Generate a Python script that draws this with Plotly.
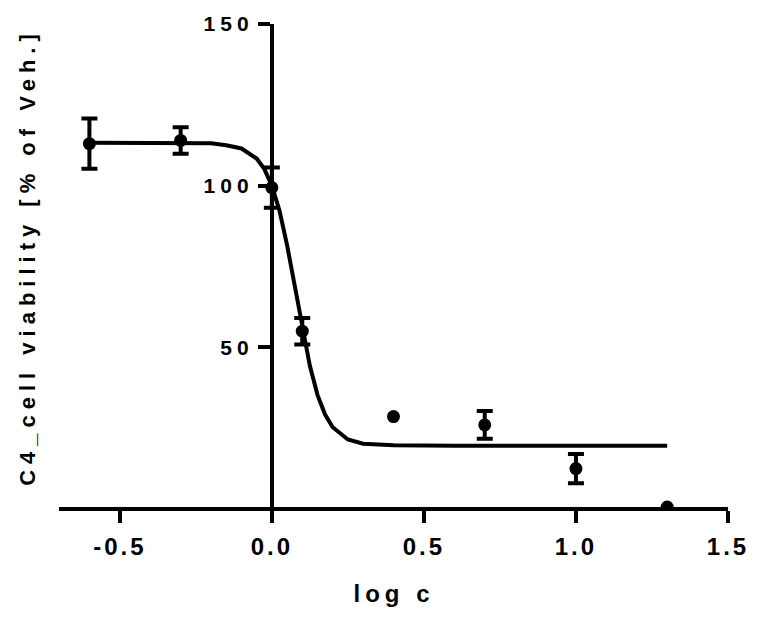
import plotly.graph_objects as go

log_c = [-0.6, -0.3, 0.0, 0.1, 0.4, 0.7, 1.0, 1.3]
viability = [113.0, 114.0, 99.4, 55.0, 28.6, 26.0, 12.5, 0.6]
sem = [7.8, 4.1, 6.2, 4.1, None, 4.3, 4.5, None]

# Fitted curve, points
fit_x = [-0.6, -0.4, -0.2, -0.15, -0.1, -0.05, -0.025, 0.0, 0.025, 0.05, 0.075,
         0.1, 0.125, 0.15, 0.175, 0.2, 0.25, 0.3, 0.35, 0.4, 0.6, 1.0, 1.3]
fit_y = [113.3, 113.3, 113.1, 112.5, 111.5, 108.4, 105.2, 100.0, 92.3, 81.6, 69.0,
         55.8, 44.3, 35.3, 29.2, 25.3, 21.5, 20.2, 19.8, 19.7, 19.6, 19.6, 19.6]

x_ticks = [-0.5, 0.0, 0.5, 1.0, 1.5]
x_tick_text = ["-0.5", "0.0", "0.5", "1.0", "1.5"]
y_ticks = [50, 100, 150]
y_tick_text = ["50", "100", "150"]

x_title = "log c"
y_title = "C4_cell viability [% of Veh.]"

FONT = "Liberation Sans, Arial, sans-serif"

# split points with / without error bars
with_err = [i for i, e in enumerate(sem) if e is not None]
no_err = [i for i, e in enumerate(sem) if e is None]

fig = go.Figure()
fig.add_trace(go.Scatter(
    x=fit_x, y=fit_y, mode="lines",
    line=dict(color="black", width=4),
    hoverinfo="skip", showlegend=False,
))
fig.add_trace(go.Scatter(
    x=[log_c[i] for i in with_err], y=[viability[i] for i in with_err],
    mode="markers",
    marker=dict(color="black", size=13),
    error_y=dict(type="data", array=[sem[i] for i in with_err], visible=True,
                 color="black", thickness=4, width=8),
    showlegend=False, cliponaxis=True,
))
fig.add_trace(go.Scatter(
    x=[log_c[i] for i in no_err], y=[viability[i] for i in no_err],
    mode="markers",
    marker=dict(color="black", size=13),
    showlegend=False, cliponaxis=True,
))

fig.update_layout(
    width=762, height=628,
    margin=dict(l=59, r=34, t=22, b=121),
    plot_bgcolor="white", paper_bgcolor="white",
    font=dict(family=FONT, color="black"),
    xaxis=dict(
        range=[-0.7, 1.5], domain=[0, 1],
        showline=True, linewidth=4, linecolor="black",
        ticks="outside", ticklen=12, tickwidth=4, tickcolor="black",
        tickvals=x_ticks, ticktext=x_tick_text,
        tickfont=dict(family=FONT, size=24, weight="bold", color="black"),
        ticklabelstandoff=3,
        showgrid=False, zeroline=False,
    ),
    yaxis=dict(
        range=[0.62, 150], anchor="free", position=0.7 / 2.2,
        showline=True, linewidth=4, linecolor="black",
        ticks="outside", ticklen=12, tickwidth=4, tickcolor="black",
        tickvals=y_ticks, ticktext=y_tick_text,
        tickfont=dict(family=FONT, size=21, weight="bold", color="black"),
        showgrid=False, zeroline=False,
    ),
    annotations=[
        dict(text=x_title, xref="paper", yref="paper", x=0.5, y=-0.18,
             showarrow=False, xanchor="center", yanchor="middle",
             font=dict(family=FONT, size=24, weight="bold", color="black")),
        dict(text=y_title, xref="paper", yref="paper", x=-0.047, y=0.517,
             showarrow=False, xanchor="center", yanchor="middle", textangle=-90,
             font=dict(family=FONT, size=22, weight="bold", color="black")),
    ],
)

post = """
var st = document.createElement('style');
st.textContent = 'body{margin:0 !important;}'
 + ' .xtick text{letter-spacing:3px !important;}'
 + ' .ytick text{letter-spacing:5px !important;}'
 + ' g.annotation[data-index="0"] text{letter-spacing:5px !important;}'
 + ' g.annotation[data-index="1"] text{letter-spacing:6px !important;}';
document.head.appendChild(st);
"""
fig.write_html("out.html", post_script=post, config={"displayModeBar": False})
